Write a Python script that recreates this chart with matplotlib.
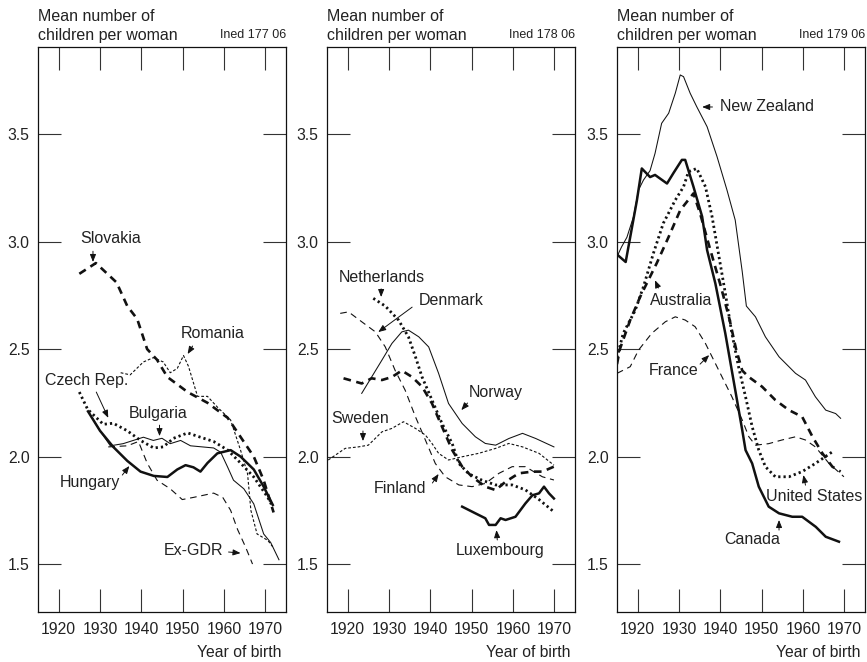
import numpy as np
import matplotlib
matplotlib.use('Agg')
from matplotlib import pyplot as plt

plt.rcParams['font.family'] = ['Liberation Sans', 'DejaVu Sans']
plt.rcParams['lines.scale_dashes'] = False

# ---- panel 1 : central / eastern Europe (Ined 177 06)
slovakia_yr = [1925, 1929, 1934, 1936.6, 1939, 1941.4, 1943.8, 1946.3, 1951.2, 1956, 1960.9, 1962.3, 1967.2, 1969.6, 1972]
slovakia = [2.85, 2.90, 2.81, 2.70, 2.64, 2.50, 2.45, 2.37, 2.30, 2.25, 2.18, 2.14, 2.00, 1.89, 1.74]

romania_yr = [1935, 1937.3, 1940.5, 1942.9, 1945.3, 1947, 1948.7, 1950.2, 1951.4, 1953.6, 1956, 1958.4, 1960, 1961.6, 1964, 1965.7, 1966.5, 1968, 1970.6, 1971.8]
romania = [2.39, 2.38, 2.44, 2.46, 2.44, 2.39, 2.41, 2.47, 2.42, 2.28, 2.28, 2.23, 2.20, 2.17, 2.03, 1.92, 1.75, 1.64, 1.61, 1.58]

czech_yr = [1925, 1927, 1930.8, 1933.2, 1936.6, 1939.8, 1943, 1945.3, 1947.8, 1951.2, 1954.3, 1957.5, 1960.9, 1964, 1967.2, 1970.6, 1971.8]
czech = [2.30, 2.22, 2.15, 2.155, 2.12, 2.075, 2.04, 2.045, 2.085, 2.11, 2.09, 2.07, 2.03, 1.97, 1.905, 1.81, 1.765]

hungary_yr = [1927.1, 1930, 1933.2, 1936.6, 1939.8, 1943, 1946.3, 1948.7, 1950.7, 1952.6, 1954.3, 1956, 1958.4, 1961.6, 1964, 1967.2, 1969.6, 1971.8]
hungary = [2.21, 2.12, 2.045, 1.98, 1.93, 1.91, 1.905, 1.94, 1.96, 1.95, 1.93, 1.97, 2.015, 2.03, 2.00, 1.94, 1.86, 1.775]

bulgaria_yr = [1927.5, 1930, 1932.5, 1935.6, 1940.5, 1942.9, 1945, 1947, 1949.5, 1951.9, 1957.5, 1959.2, 1960.9, 1962.3, 1964.8, 1967.2, 1969.6, 1971.3, 1973.3]
bulgaria = [2.20, 2.12, 2.05, 2.06, 2.09, 2.075, 2.085, 2.06, 2.075, 2.05, 2.04, 2.02, 1.95, 1.89, 1.85, 1.78, 1.64, 1.60, 1.52]

gdr_yr = [1932, 1936.6, 1939.3, 1941.4, 1943.8, 1947, 1949.9, 1952.6, 1957.5, 1959.7, 1961.6, 1963.3, 1965.2, 1966.9]
gdr = [2.045, 2.05, 2.07, 1.97, 1.89, 1.85, 1.80, 1.81, 1.83, 1.81, 1.75, 1.66, 1.58, 1.50]

# ---- panel 2 : northern / western Europe (Ined 178 06)
netherlands_yr = [1926.2, 1929.1, 1932.3, 1934.7, 1936.4, 1938, 1940.4, 1942.8, 1945.3, 1946.9, 1949.3, 1952.5, 1955.8, 1959.8, 1963, 1966.3, 1969.9]
netherlands = [2.736, 2.70, 2.635, 2.557, 2.464, 2.37, 2.263, 2.155, 2.06, 1.968, 1.92, 1.89, 1.868, 1.868, 1.845, 1.80, 1.743]

denmark_yr = [1919, 1923.4, 1925.8, 1928.3, 1930.7, 1933.1, 1935.6, 1938, 1940.4, 1942.8, 1945.3, 1947.7, 1950.1, 1953.3, 1955.8, 1958.2, 1961.4, 1964.7, 1967.1, 1969.9]
denmark = [2.364, 2.34, 2.364, 2.356, 2.37, 2.40, 2.37, 2.325, 2.247, 2.14, 2.03, 1.953, 1.906, 1.86, 1.844, 1.883, 1.922, 1.93, 1.93, 1.953]

norway_yr = [1923.4, 1925.8, 1928.3, 1930.7, 1933.1, 1934.7, 1937.2, 1939.6, 1942, 1944.4, 1947.7, 1950.9, 1953.3, 1955.8, 1959, 1962.3, 1965.5, 1969.9]
norway = [2.294, 2.37, 2.449, 2.526, 2.58, 2.588, 2.557, 2.51, 2.387, 2.247, 2.154, 2.092, 2.061, 2.053, 2.084, 2.108, 2.084, 2.045]

sweden_yr = [1915.3, 1919.4, 1922.6, 1925, 1928.3, 1930.7, 1933.5, 1936.4, 1938.8, 1940.4, 1942, 1944.4, 1947.7, 1951.7, 1955.8, 1959, 1962.3, 1966.3, 1969.9]
sweden = [1.984, 2.038, 2.045, 2.053, 2.115, 2.131, 2.162, 2.131, 2.10, 2.061, 2.015, 1.984, 1.999, 2.015, 2.038, 2.061, 2.045, 2.015, 1.96]

finland_yr = [1918.2, 1920.2, 1923.4, 1926.7, 1929.1, 1931.5, 1933.9, 1936.4, 1938.8, 1941.2, 1943.6, 1946.9, 1950.1, 1953.3, 1956.6, 1959.8, 1963, 1967.1, 1969.9]
finland = [2.666, 2.673, 2.627, 2.58, 2.51, 2.40, 2.309, 2.185, 2.077, 1.968, 1.906, 1.868, 1.86, 1.875, 1.922, 1.953, 1.953, 1.906, 1.891]

luxembourg_yr = [1947.7, 1950.9, 1953.3, 1954.2, 1955.8, 1957, 1958.2, 1960.6, 1963, 1964.7, 1966.3, 1967.5, 1968.7, 1969.9]
luxembourg = [1.767, 1.736, 1.713, 1.682, 1.682, 1.713, 1.705, 1.72, 1.782, 1.82, 1.829, 1.86, 1.829, 1.805]

# ---- panel 3 : overseas + France (Ined 179 06)
nz_yr = [1915, 1916.1, 1917.4, 1919, 1920.2, 1921.4, 1923, 1924.2, 1925.8, 1927.5, 1929.1, 1930.3, 1931.1, 1932.7, 1934.3, 1936.8, 1939.2, 1941.6, 1943.6, 1945.3, 1946.3, 1948.5, 1950.9, 1954.2, 1958.2, 1960.6, 1963, 1965.5, 1967.9, 1969.1]
nz = [2.93, 2.975, 3.02, 3.116, 3.24, 3.286, 3.33, 3.41, 3.55, 3.597, 3.69, 3.775, 3.767, 3.69, 3.627, 3.534, 3.395, 3.24, 3.10, 2.86, 2.70, 2.65, 2.557, 2.464, 2.387, 2.356, 2.278, 2.216, 2.20, 2.178]

canada_yr = [1915, 1917.1, 1919.8, 1921, 1923, 1924.2, 1927.1, 1928.7, 1930.7, 1931.5, 1933.5, 1935.6, 1936.8, 1938.8, 1941.2, 1943.6, 1945.3, 1946.1, 1947.7, 1949.3, 1951.7, 1954.2, 1957.4, 1959.8, 1963.1, 1965.5, 1968.7]
canada = [2.94, 2.905, 3.19, 3.34, 3.30, 3.31, 3.27, 3.32, 3.38, 3.38, 3.255, 3.116, 2.96, 2.805, 2.573, 2.31, 2.123, 2.03, 1.968, 1.86, 1.767, 1.736, 1.72, 1.72, 1.673, 1.627, 1.604]

australia_yr = [1915, 1915.7, 1918.2, 1920.6, 1924.6, 1927.5, 1930.3, 1933.5, 1935.1, 1937.6, 1940, 1942.2, 1943.8, 1945.3, 1946.9, 1950.1, 1953.3, 1956.6, 1959.8, 1962.3, 1964.7, 1967.1, 1969.1]
australia = [2.43, 2.50, 2.635, 2.743, 2.899, 3.022, 3.146, 3.224, 3.131, 2.96, 2.80, 2.64, 2.50, 2.40, 2.37, 2.325, 2.263, 2.216, 2.185, 2.092, 2.015, 1.953, 1.93]

usa_yr = [1915, 1916.5, 1919.4, 1921.4, 1923.8, 1926.2, 1929.1, 1931.1, 1932.3, 1934.3, 1936.4, 1938, 1941.2, 1942.8, 1944.4, 1946.1, 1947.7, 1949.3, 1950.9, 1953.3, 1956.6, 1959.8, 1963, 1967.1]
usa = [2.46, 2.573, 2.68, 2.79, 2.945, 3.085, 3.193, 3.255, 3.325, 3.34, 3.255, 3.116, 2.76, 2.573, 2.418, 2.278, 2.139, 2.03, 1.953, 1.906, 1.906, 1.93, 1.968, 2.022]

france_yr = [1915, 1918.2, 1920.2, 1923.4, 1926.7, 1929.1, 1931.5, 1933.9, 1936.4, 1938, 1940.4, 1942.8, 1945.3, 1946.9, 1948.5, 1951.7, 1954.9, 1958.2, 1960.6, 1963, 1966.3, 1969.9]
france = [2.387, 2.418, 2.495, 2.573, 2.627, 2.65, 2.635, 2.604, 2.526, 2.464, 2.371, 2.278, 2.17, 2.092, 2.053, 2.06, 2.077, 2.092, 2.077, 2.045, 1.968, 1.906]

# line styles
THICK_SOLID = dict(lw=1.8, ls='-')
THIN_SOLID = dict(lw=0.75, ls='-')
THICK_DASH = dict(lw=1.9, dashes=(5.5, 4.0))
THIN_DASH = dict(lw=0.8, dashes=(4.8, 3.4))
THICK_DOT = dict(lw=2.0, dashes=(1.6, 2.2))
THIN_DOT = dict(lw=0.8, dashes=(2.0, 1.4))

INK = '#111111'
TXT = '#222222'

panels = [
    ('Ined 177 06', [
        (slovakia_yr, slovakia, THICK_DASH),
        (romania_yr, romania, THIN_DOT),
        (czech_yr, czech, THICK_DOT),
        (bulgaria_yr, bulgaria, THIN_SOLID),
        (gdr_yr, gdr, THIN_DASH),
        (hungary_yr, hungary, THICK_SOLID),
    ], [
        ('Slovakia', (1932.5, 3.016), (1928.3, 2.955), (1928.3, 2.905)),
        ('Romania', (1957.2, 2.574), (1952.4, 2.514), (1951.2, 2.477)),
        ('Czech Rep.', (1926.7, 2.356), (1929.1, 2.30), (1932.0, 2.18)),
        ('Bulgaria', (1944.1, 2.20), (1944.4, 2.146), (1944.4, 2.095)),
        ('Hungary', (1927.6, 1.88), (1935.4, 1.914), (1937.1, 1.956)),
        ('Ex-GDR', (1952.6, 1.565), (1961.1, 1.556), (1964.0, 1.551)),
    ]),
    ('Ined 178 06', [
        (netherlands_yr, netherlands, THICK_DOT),
        (denmark_yr, denmark, THICK_DASH),
        (norway_yr, norway, THIN_SOLID),
        (sweden_yr, sweden, THIN_DOT),
        (finland_yr, finland, THIN_DASH),
        (luxembourg_yr, luxembourg, THICK_SOLID),
    ], [
        ('Netherlands', (1928.3, 2.835), (1928.1, 2.78), (1928.1, 2.742)),
        ('Denmark', (1945.1, 2.728), (1935.6, 2.695), (1927.4, 2.579)),
        ('Norway', (1955.8, 2.30), (1949.0, 2.249), (1947.5, 2.216)),
        ('Sweden', (1923.0, 2.179), (1923.7, 2.119), (1923.7, 2.072)),
        ('Finland', (1932.7, 1.853), (1940.5, 1.877), (1942.0, 1.919)),
        ('Luxembourg', (1957.0, 1.565), (1956.2, 1.612), (1956.0, 1.658)),
    ]),
    ('Ined 179 06', [
        (nz_yr, nz, THIN_SOLID),
        (france_yr, france, THIN_DASH),
        (australia_yr, australia, THICK_DASH),
        (usa_yr, usa, THICK_DOT),
        (canada_yr, canada, THICK_SOLID),
    ], [
        ('New Zealand', (1951.2, 3.626), (1938.1, 3.626), (1935.6, 3.626)),
        ('Australia', (1930.5, 2.728), (1925.0, 2.784), (1924.2, 2.82)),
        ('France', (1928.8, 2.40), (1935.1, 2.43), (1937.3, 2.472)),
        ('United States', (1962.8, 1.812), (1960.6, 1.867), (1960.1, 1.914)),
        ('Canada', (1947.7, 1.612), (1954.2, 1.658), (1954.2, 1.705)),
    ]),
]

fig = plt.figure(figsize=(8.67, 6.62), dpi=100)
lefts = [38, 327, 617]
for left, (code, series, labels) in zip(lefts, panels):
    ax = fig.add_axes([left / 867, 50 / 662, 248 / 867, 565 / 662])
    for yrs, vals, st in series:
        ax.plot(yrs, vals, color=INK, solid_joinstyle='round', **st)
    for name, txt_xy, tail, head in labels:
        ax.text(txt_xy[0], txt_xy[1], name, ha='center', va='center', fontsize=11.5, color=TXT)
        ax.annotate('', xy=head, xytext=tail,
                    arrowprops=dict(arrowstyle='-|>,head_length=0.45,head_width=0.18',
                                    lw=0.7, color=INK, shrinkA=0, shrinkB=0))
    ax.set_xlim(1915, 1975)
    ax.set_ylim(1.277, 3.905)
    ax.set_xticks([1920, 1930, 1940, 1950, 1960, 1970])
    ax.set_yticks([1.5, 2.0, 2.5, 3.0, 3.5])
    ax.set_yticklabels(['1.5', '2.0', '2.5', '3.0', '3.5'])
    ax.tick_params(direction='in', length=16.5, width=0.8, color='#333333',
                   top=True, right=True, labelsize=11.3, labelcolor=TXT)
    ax.tick_params(axis='x', pad=7)
    ax.tick_params(axis='y', pad=6)
    for sp in ax.spines.values():
        sp.set_linewidth(0.9)
        sp.set_color(INK)
    ax.annotate('Mean number of\nchildren per woman', xy=(0, 1), xycoords='axes fraction',
                xytext=(0, 3), textcoords='offset points', ha='left', va='bottom',
                fontsize=11.5, color=TXT, linespacing=1.35)
    ax.annotate(code, xy=(1, 1), xycoords='axes fraction', xytext=(0, 4),
                textcoords='offset points', ha='right', va='bottom', fontsize=9, color=TXT)
    ax.annotate('Year of birth', xy=(1, 0), xycoords='axes fraction', xytext=(-3, -29.5),
                textcoords='offset points', ha='right', va='center', fontsize=11.3, color=TXT)

fig.savefig('out.png', dpi=100)
